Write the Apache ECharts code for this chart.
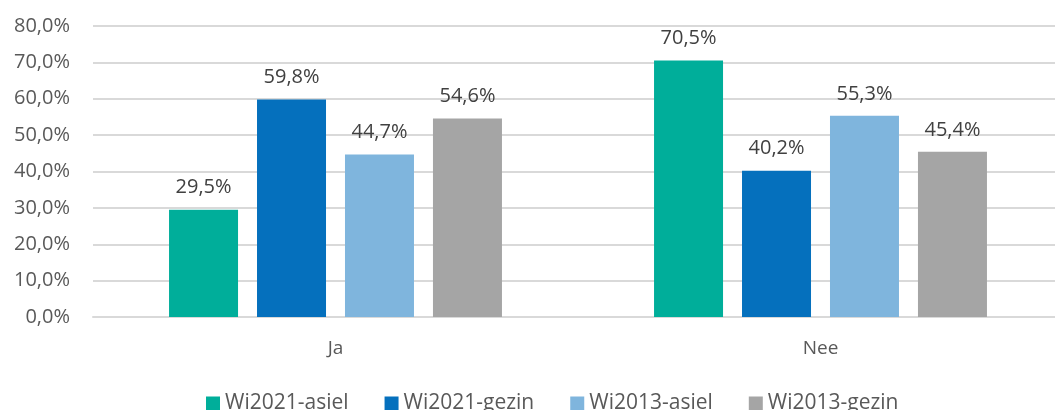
<!DOCTYPE html>
<html>
<head>
<meta charset="utf-8">
<script src="https://cdn.jsdelivr.net/npm/echarts@6/dist/echarts.min.js"></script>
<style>
  html, body { margin: 0; padding: 0; background: #fff; overflow: hidden; }
  #chart { width: 1075px; height: 410px; }
</style>
</head>
<body>
<div id="chart"></div>
<script>
  var categories = ['Ja', 'Nee']
  var seriesNames = ['Wi2021-asiel', 'Wi2021-gezin', 'Wi2013-asiel', 'Wi2013-gezin']
  var asiel2021 = [29.5, 70.5]
  var gezin2021 = [59.8, 40.2]
  var asiel2013 = [44.7, 55.3]
  var gezin2013 = [54.6, 45.4]
  var colors = ['#00ae9a', '#0570bd', '#7fb5dd', '#a5a5a5']

  var fmt = function (v) {
    return v.toFixed(1).replace('.', ',') + '%'
  }

  var font = 'Open Sans, sans-serif'
  var values = [asiel2021, gezin2021, asiel2013, gezin2013]
  var series = seriesNames.map(function (name, i) {
    return {
      name: name,
      type: 'bar',
      data: values[i],
      barWidth: 69,
      barGap: '27.5%',
      itemStyle: { color: colors[i] },
      label: {
        show: true,
        position: 'top',
        distance: 12,
        color: '#404040',
        fontSize: 20,
        fontFamily: font,
        formatter: function (p) { return fmt(p.value) }
      }
    }
  })

  // chart is a bit wider than the window: the plot runs off the right edge like the reference
  var myChart = echarts.init(document.getElementById('chart'))
  myChart.setOption({
    animation: false,
    color: colors,
    grid: {
      left: 93,
      top: 26,
      width: 970,
      height: 291
    },
    legend: {
      data: seriesNames,
      bottom: -9,
      left: 201,
      itemWidth: 14,
      itemHeight: 14,
      itemGap: 36,
      icon: 'rect',
      textStyle: {
        color: '#595959',
        fontSize: 21,
        fontFamily: font
      }
    },
    xAxis: {
      type: 'category',
      data: categories,
      axisLine: { lineStyle: { color: '#d9d9d9', width: 2 } },
      axisTick: { show: false },
      axisLabel: {
        color: '#595959',
        fontSize: 19,
        fontFamily: font,
        margin: 22
      }
    },
    yAxis: {
      type: 'value',
      min: 0,
      max: 80,
      interval: 10,
      axisLine: { show: false },
      axisTick: { show: false },
      splitLine: { lineStyle: { color: '#d9d9d9', width: 2 } },
      axisLabel: {
        color: '#595959',
        fontSize: 20,
        fontFamily: font,
        margin: 23,
        formatter: function (v) { return fmt(v) }
      }
    },
    series: series
  })
</script>
</body>
</html>
